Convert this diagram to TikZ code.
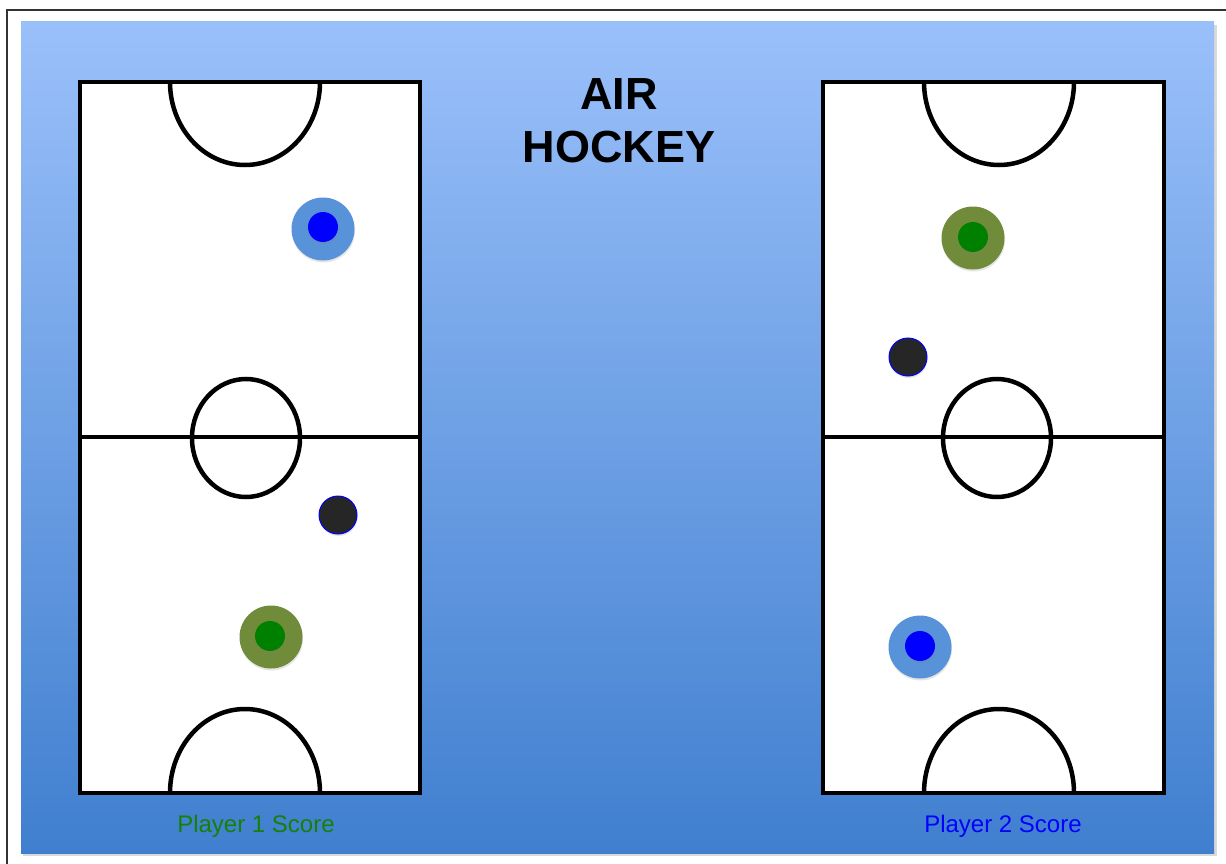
\documentclass[tikz,border=0pt]{standalone}
\usepackage{fontspec}
\setmainfont{Liberation Sans}
\usepackage{tikz}
\usetikzlibrary{positioning, shadows}
\definecolor{skytop}{RGB}{154,192,250}
\definecolor{skybottom}{RGB}{64,127,207}
\definecolor{ringblue}{RGB}{88,146,216}
\definecolor{ringgreen}{RGB}{112,140,58}
\definecolor{coregreen}{RGB}{0,128,0}
\definecolor{puckgray}{RGB}{38,38,38}
\definecolor{scoregreen}{RGB}{22,128,8}

\begin{document}
\begin{tikzpicture}[x=1pt, y=-1pt,
      rink/.style={draw=black, line width=4.5pt, fill=white},
      rinkline/.style={draw=black, line width=4.5pt},
      ring/.style={circle, inner sep=0pt, minimum size=63pt, drop shadow={opacity=0.2, shadow xshift=0.5pt, shadow yshift=-2pt}},
      core/.style={circle, inner sep=0pt, minimum size=30pt, drop shadow={opacity=0.25, shadow xshift=0.5pt, shadow yshift=-2pt}},
      puck/.style={circle, inner sep=0pt, minimum size=38pt, fill=puckgray, draw=blue, line width=1pt, drop shadow={opacity=0.2, shadow xshift=0.5pt, shadow yshift=-2pt}},
      score/.style={font=\fontsize{24}{28}\selectfont, inner sep=0pt, anchor=base}]
    \useasboundingbox (0,0) rectangle (1226,864);
    \fill[white] (0,0) rectangle (1226,864);
    \draw[black!80, line width=1.2pt] (7,864) -- (7,10) -- (1226,10);
    % board
    \fill[black, opacity=0.15] (23,25) rectangle (1217,856);
    \shade[top color=skytop, bottom color=skybottom] (21,22) rectangle (1214,853);
    % left rink
    \draw[rink] (80,82) rectangle (420,793);
    \draw[rinkline] (80,437) -- (420,437);
    \draw[rinkline] (246,438) ellipse (54 and 59);
    \draw[rinkline] (170,82) arc[start angle=180, end angle=0, x radius=75, y radius=83];
    \draw[rinkline] (170,793) arc[start angle=180, end angle=360, x radius=75, y radius=84];
    % right rink
    \draw[rink] (823,82) rectangle (1164,793);
    \draw[rinkline] (823,437) -- (1164,437);
    \draw[rinkline] (997,438) ellipse (54 and 59);
    \draw[rinkline] (924,82) arc[start angle=180, end angle=0, x radius=75, y radius=83];
    \draw[rinkline] (924,793) arc[start angle=180, end angle=360, x radius=75, y radius=84];
    % mallets and pucks
    \node[ring, fill=ringblue] (blueone) at (323,229) {};
    \node[core, fill=blue] (blueonec) at (323,227) {};
    \node[puck] (puckone) at (338,515) {};
    \node[ring, fill=ringgreen] (greenone) at (271,637) {};
    \node[core, fill=coregreen] (greenonec) at (270,636) {};
    \node[ring, fill=ringgreen] (greentwo) at (973,238) {};
    \node[core, fill=coregreen] (greentwoc) at (973,237) {};
    \node[puck] (pucktwo) at (908,357) {};
    \node[ring, fill=ringblue] (bluetwo) at (920,647) {};
    \node[core, fill=blue] (bluetwoc) at (920,646) {};
    % texts
    \node[font=\bfseries\fontsize{45}{53}\selectfont, align=center, inner sep=0pt, anchor=north] (title) at (619,78) {AIR\\HOCKEY};
    \node[score, text=scoregreen] (scoreone) at (256,832) {Player 1 Score};
    \node[score, text=blue] (scoretwo) at (1003,832) {Player 2 Score};
\end{tikzpicture}
\end{document}
